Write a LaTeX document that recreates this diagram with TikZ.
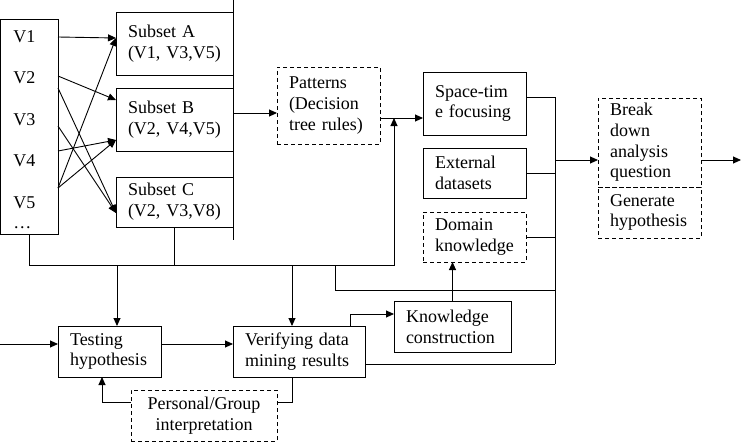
\documentclass[tikz,border=0pt]{standalone}
\usepackage{fontspec}
\setmainfont{Liberation Serif}
\usetikzlibrary{arrows.meta}

\tikzset{
  blk/.style={draw, outer sep=0pt, inner xsep=12pt, inner ysep=0pt, anchor=north west, align=left},
  dblk/.style={blk, dash pattern=on 4pt off 3pt},
  arr/.style={-{Triangle[length=8pt,width=7pt]}},
}

\begin{document}
\begin{tikzpicture}[x=1pt, y=-1pt, line width=0.9pt, font=\fontsize{18}{20.7}\selectfont]
\useasboundingbox (0,0) rectangle (741,444);

% variables and subsets
\node[blk, minimum width=58pt, minimum height=215pt] (vars) at (0,19) {};
\foreach \lab/\yb [count=\i] in {V1/42, V2/83, V3/125, V4/166, V5/208, …/228}
  \node[anchor=base west, inner sep=0pt] (v\i) at (13,\yb) {\lab};
\node[blk, minimum width=117pt, minimum height=63pt, text width=93pt] (subA) at (116,12) {Subset A\\(V1, V3,V5)};
\node[blk, minimum width=117pt, minimum height=63pt, text width=93pt] (subB) at (116,88) {Subset B\\(V2, V4,V5)};
\node[blk, minimum width=117pt, minimum height=50pt, text width=93pt] (subC) at (116,177) {Subset C\\(V2, V3,V8)};

\draw[arr] ([yshift=-18pt]vars.north east) -- ([yshift=-26pt]subA.north west);
\draw[arr] ([yshift=-57pt]vars.north east) -- ([yshift=-12pt]subB.north west);
\draw[arr] ([yshift=-69pt]vars.north east) -- ([yshift=-36pt]subC.north west);
\draw[arr] ([yshift=-107pt]vars.north east) -- ([yshift=-36pt]subC.north west);
\draw[arr] ([yshift=-132pt]vars.north east) -- ([yshift=-52pt]subB.north west);
\draw[arr] ([yshift=-169pt]vars.north east) -- ([yshift=-52pt]subB.north west);
\draw[arr] ([yshift=-169pt]vars.north east) -- ([yshift=-26pt]subA.north west);

% patterns and sources
\node[dblk, minimum width=103pt, minimum height=77pt, text width=79pt] (pat) at (277,67) {Patterns\\(Decision\\tree rules)};
\node[blk, minimum width=103pt, minimum height=63pt, text width=79pt] (st) at (423,72) {Space-tim\\e focusing};
\node[blk, minimum width=103pt, minimum height=50pt, text width=79pt] (ext) at (423,148) {External\\datasets};
\node[dblk, minimum width=103pt, minimum height=50pt, text width=79pt] (dom) at (423,212) {Domain\\knowledge};
\node[dblk, minimum width=103pt, minimum height=89pt, text width=79pt] (brk) at (598,98) {Break\\down\\analysis\\question};
\node[dblk, minimum width=103pt, minimum height=51pt, text width=79pt] (gen) at (598,187) {Generate\\hypothesis};

% lower row
\node[blk, minimum width=103pt, minimum height=51pt, text width=79pt] (test) at (58,326) {Testing\\hypothesis};
\node[blk, minimum width=132pt, minimum height=51pt, text width=108pt] (ver) at (233,326) {Verifying data\\mining results};
\node[blk, minimum width=117pt, minimum height=51pt, text width=93pt] (kc) at (394,301) {Knowledge\\construction};
\node[dblk, align=center, minimum width=146pt, minimum height=51pt, text width=122pt] (pers) at (131,390) {Personal/Group\\interpretation};

\coordinate (lbus) at (233,0);
\coordinate (lbusend) at (233,240);
\coordinate (pin) at (233,113);
\coordinate (pj) at (394,118);
\coordinate (bb) at (0,265);
\coordinate (rb) at (555,364);
\coordinate (in) at (0,344);
\coordinate (out) at (741,160);

% left bus to patterns
\draw (lbus) -- (lbusend);
\draw[arr] (pin) -- (pat.west |- pin);
\draw[arr] (pat.east |- pj) -- (st.west |- pj);

% bottom bus
\draw[arr] (vars.south) |- (pj |- bb) -- (pj);
\draw (subC.south) -- (subC.south |- bb);
\draw[arr] ([xshift=59pt]test.north west |- bb) -- ([xshift=59pt]test.north west);
\draw[arr] ([xshift=59pt]ver.north west |- bb) -- ([xshift=59pt]ver.north west);
\draw (335,265) |- (rb |- 0,290);

% right bus
\draw ([yshift=-25pt]st.north east) -| (rb);
\draw (ext.east) -- (ext.east -| rb);
\draw (dom.east) -- (dom.east -| rb);
\draw ([yshift=13pt]ver.south east) -- (rb);
\draw[arr] (rb |- out) -- ([yshift=-62pt]brk.north west);
\draw[arr] ([yshift=-62pt]brk.north east) -- (out);

% lower connectors
\draw[arr] (in) -- ([yshift=-18pt]test.north west);
\draw[arr] ([yshift=-18pt]test.north east) -- ([yshift=-18pt]ver.north west);
\draw[arr] ([xshift=117pt]ver.north west) |- ([yshift=-13pt]kc.north west);
\draw[arr] (kc.north) -- (kc.north |- dom.south);
\draw ([xshift=59pt]ver.south west) |- ([yshift=-12pt]pers.north east);
\draw[arr] ([yshift=-12pt]pers.north west) -| ([xshift=44pt]test.south west);

\end{tikzpicture}
\end{document}
